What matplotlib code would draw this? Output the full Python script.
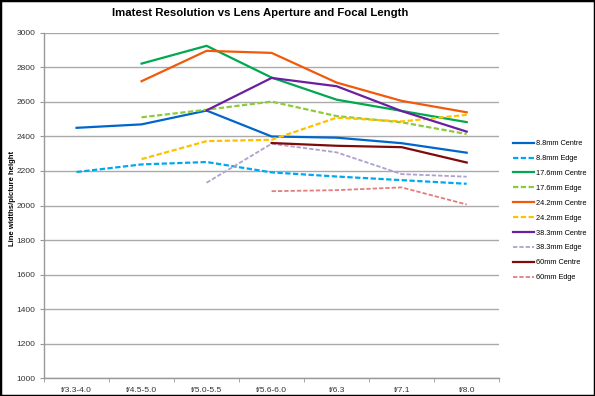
import matplotlib
matplotlib.use("Agg")
import matplotlib.pyplot as plt
from matplotlib.patches import Rectangle
import numpy as np

plt.rcParams['font.family'] = ['Liberation Sans', 'DejaVu Sans']

categories = ["f/3.3-4.0", "f/4.5-5.0", "f/5.0-5.5", "f/5.6-6.0", "f/6.3", "f/7.1", "f/8.0"]
nan = np.nan

s88_centre = [2450, 2470, 2550, 2400, 2393, 2361, 2306]
s88_edge = [2194, 2238, 2252, 2192, 2168, 2147, 2126]
s176_centre = [nan, 2822, 2925, 2741, 2613, 2548, 2483]
s176_edge = [nan, 2511, 2555, 2602, 2518, 2482, 2414]
s242_centre = [nan, 2720, 2896, 2884, 2712, 2606, 2540]
s242_edge = [nan, 2269, 2373, 2381, 2509, 2487, 2525]
s383_centre = [nan, nan, 2551, 2739, 2691, 2547, 2428]
s383_edge = [nan, nan, 2132, 2358, 2308, 2182, 2167]
s60_centre = [nan, nan, nan, 2362, 2346, 2338, 2249]
s60_edge = [nan, nan, nan, 2083, 2089, 2105, 2006]

series = [
    ("8.8mm Centre", s88_centre, "#0066CC", "-", 1.6),
    ("8.8mm Edge", s88_edge, "#00A8F0", "--", 1.6),
    ("17.6mm Centre", s176_centre, "#00A850", "-", 1.6),
    ("17.6mm Edge", s176_edge, "#8CCB3C", "--", 1.6),
    ("24.2mm Centre", s242_centre, "#F05A0A", "-", 1.6),
    ("24.2mm Edge", s242_edge, "#FFC000", "--", 1.6),
    ("38.3mm Centre", s383_centre, "#6A1FA0", "-", 1.6),
    ("38.3mm Edge", s383_edge, "#B0A0CC", "--", 1.3),
    ("60mm Centre", s60_centre, "#7F0A0A", "-", 1.6),
    ("60mm Edge", s60_edge, "#E07E82", "--", 1.3),
]

fig = plt.figure(figsize=(5.95, 3.96), dpi=100)
ax = fig.add_axes([0.074, 0.045, 0.765, 0.872])

x = np.arange(len(categories))
for name, vals, col, ls, lw in series:
    line, = ax.plot(x, vals, color=col, linestyle=ls, linewidth=lw, label=name)
    if ls == "--":
        line.set_dashes((2.4, 1.1))

ax.set_xlim(-0.5, len(categories) - 0.5)
ax.set_ylim(1000, 3000)
ax.set_yticks(np.arange(1000, 3001, 200))
ax.set_xticks(x)
ax.set_xticklabels(categories)
ax.set_xticks(np.arange(-0.5, len(categories), 1.0), minor=True)
ax.tick_params(axis='x', which='major', length=0, labelsize=6, pad=6, colors='#333333')
ax.tick_params(axis='x', which='minor', length=3, color='#999999', direction='out')
ax.tick_params(axis='y', length=3, color='#999999', labelsize=6, colors='#333333', pad=3)
ax.yaxis.grid(True, color='#aaaaaa', linewidth=1.0)
ax.set_axisbelow(True)
for side in ['top', 'right']:
    ax.spines[side].set_visible(False)
for side in ['left', 'bottom']:
    ax.spines[side].set_color('#999999')
    ax.spines[side].set_linewidth(1.0)

ax.set_ylabel("Line widths/picture height", fontsize=5.5, fontweight='bold')
ax.yaxis.set_label_coords(-0.062, 0.52)
fig.text(0.437, 0.966, "Imatest Resolution vs Lens Aperture and Focal Length",
         ha='center', va='center', fontsize=8.2, fontweight='bold')

leg = ax.legend(loc='center left', bbox_to_anchor=(0.854, 0.468), bbox_transform=fig.transFigure,
                frameon=False, fontsize=5.3, handlelength=2.8, labelspacing=1.05,
                handletextpad=0.3, borderaxespad=0.3)

fig.patches.append(Rectangle((0, 0), 1, 1, transform=fig.transFigure, fill=False,
                             edgecolor='black', linewidth=2.5, zorder=10))

fig.savefig("out.png", dpi=100)
